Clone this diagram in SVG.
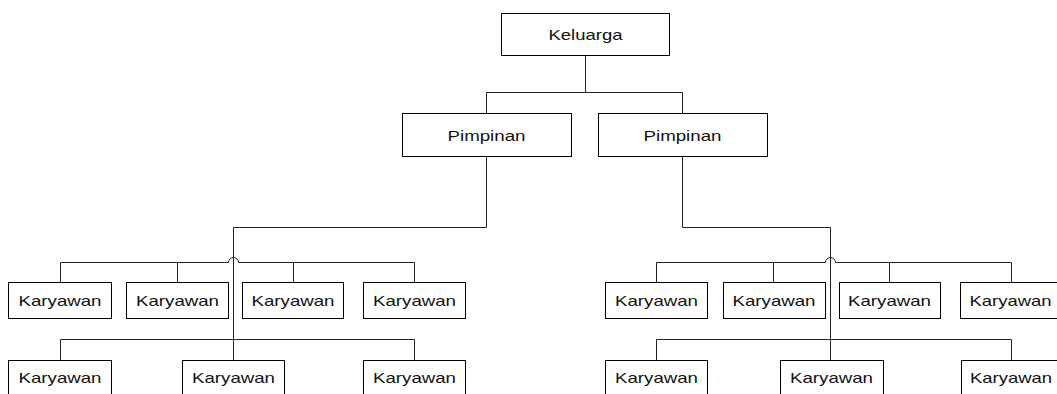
<svg xmlns="http://www.w3.org/2000/svg" width="1057" height="394" viewBox="0 0 1057 394">
<style>
.box{fill:#fff;stroke:#000;stroke-width:1}
.ln{fill:none;stroke:#222;stroke-width:1}
.t{font-family:"Liberation Sans",Arial,sans-serif;font-size:15px;fill:#111;text-anchor:middle}
</style>
<rect width="1057" height="394" fill="#fff"/>
<g id="connectors">
<path class="ln" d="M585.5 55 V92.5 M486.5 92.5 H682.5 M486.5 92.5 V113 M682.5 92.5 V113"/>
<path class="ln" d="M486.5 156 V227.5 H233.5 V339.5"/>
<path class="ln" d="M60.5 262.5 H228.5 A5 5 0 0 1 238.5 262.5 H414.5"/>
<path class="ln" d="M60.5 262.5 V282 M177.5 262.5 V282 M293.5 262.5 V282 M414.5 262.5 V282"/>
<path class="ln" d="M60.5 339.5 H414.5 M60.5 339.5 V360 M233.5 339.5 V360 M414.5 339.5 V360"/>
<path class="ln" d="M682.5 156 V227.5 H830.5 V339.5"/>
<path class="ln" d="M656.5 262.5 H825.5 A5 5 0 0 1 835.5 262.5 H1011.5"/>
<path class="ln" d="M656.5 262.5 V282 M773.5 262.5 V282 M889.5 262.5 V282 M1011.5 262.5 V282"/>
<path class="ln" d="M656.5 339.5 H1011.5 M656.5 339.5 V360 M830.5 339.5 V360 M1011.5 339.5 V360"/>
</g>
<g id="keluarga"><rect class="box" x="501.5" y="13.5" width="168" height="42"/><text class="t" x="585.5" y="40" textLength="74" lengthAdjust="spacingAndGlyphs">Keluarga</text></g>
<g id="pimpinan1"><rect class="box" x="402.5" y="113.5" width="169" height="43"/><text class="t" x="486.5" y="140.5" textLength="78" lengthAdjust="spacingAndGlyphs">Pimpinan</text></g>
<g id="pimpinan2"><rect class="box" x="598.5" y="113.5" width="169" height="43"/><text class="t" x="682.5" y="140.5" textLength="78" lengthAdjust="spacingAndGlyphs">Pimpinan</text></g>
<g id="k1"><rect class="box" x="8.5" y="282.5" width="103" height="36"/><text class="t" x="60" y="305.5" textLength="83" lengthAdjust="spacingAndGlyphs">Karyawan</text></g>
<g id="k2"><rect class="box" x="126.5" y="282.5" width="102" height="36"/><text class="t" x="177.5" y="305.5" textLength="83" lengthAdjust="spacingAndGlyphs">Karyawan</text></g>
<g id="k3"><rect class="box" x="242.5" y="282.5" width="101" height="36"/><text class="t" x="293" y="305.5" textLength="83" lengthAdjust="spacingAndGlyphs">Karyawan</text></g>
<g id="k4"><rect class="box" x="363.5" y="282.5" width="102" height="36"/><text class="t" x="414.5" y="305.5" textLength="83" lengthAdjust="spacingAndGlyphs">Karyawan</text></g>
<g id="k5"><rect class="box" x="8.5" y="360.5" width="103" height="40"/><text class="t" x="60" y="382.5" textLength="83" lengthAdjust="spacingAndGlyphs">Karyawan</text></g>
<g id="k6"><rect class="box" x="182.5" y="360.5" width="102" height="40"/><text class="t" x="233.5" y="382.5" textLength="83" lengthAdjust="spacingAndGlyphs">Karyawan</text></g>
<g id="k7"><rect class="box" x="363.5" y="360.5" width="102" height="40"/><text class="t" x="414.5" y="382.5" textLength="83" lengthAdjust="spacingAndGlyphs">Karyawan</text></g>
<g id="k8"><rect class="box" x="605.5" y="282.5" width="102" height="36"/><text class="t" x="656.5" y="305.5" textLength="83" lengthAdjust="spacingAndGlyphs">Karyawan</text></g>
<g id="k9"><rect class="box" x="723.5" y="282.5" width="102" height="36"/><text class="t" x="774" y="305.5" textLength="83" lengthAdjust="spacingAndGlyphs">Karyawan</text></g>
<g id="k10"><rect class="box" x="839.5" y="282.5" width="101" height="36"/><text class="t" x="889.5" y="305.5" textLength="83" lengthAdjust="spacingAndGlyphs">Karyawan</text></g>
<g id="k11"><rect class="box" x="960.5" y="282.5" width="102" height="36"/><text class="t" x="1010.5" y="305.5" textLength="82" lengthAdjust="spacingAndGlyphs">Karyawan</text></g>
<g id="k12"><rect class="box" x="605.5" y="360.5" width="102" height="40"/><text class="t" x="656.5" y="382.5" textLength="83" lengthAdjust="spacingAndGlyphs">Karyawan</text></g>
<g id="k13"><rect class="box" x="780.5" y="360.5" width="103" height="40"/><text class="t" x="831.5" y="382.5" textLength="83" lengthAdjust="spacingAndGlyphs">Karyawan</text></g>
<g id="k14"><rect class="box" x="961.5" y="360.5" width="102" height="40"/><text class="t" x="1011" y="382.5" textLength="82" lengthAdjust="spacingAndGlyphs">Karyawan</text></g>
</svg>
